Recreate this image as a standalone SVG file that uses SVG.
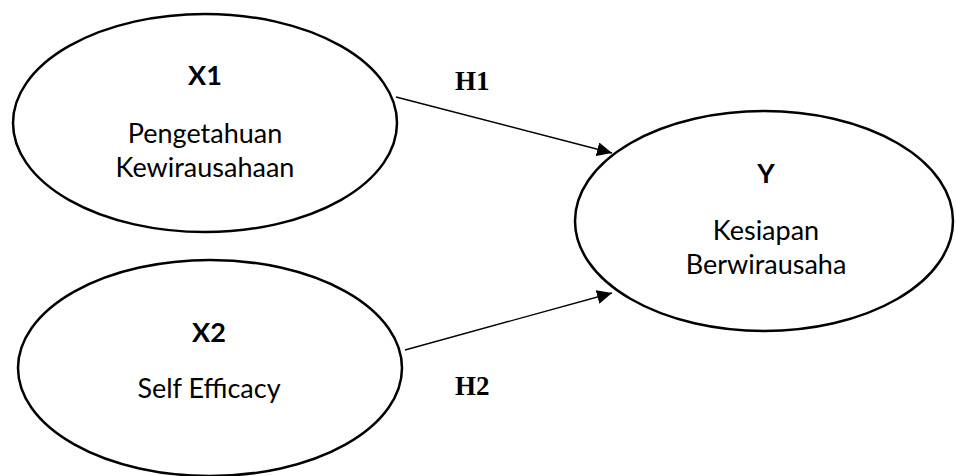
<svg xmlns="http://www.w3.org/2000/svg" width="956" height="476" viewBox="0 0 956 476">
  <style>
    .node ellipse { fill: #ffffff; stroke: #000000; stroke-width: 2.5; }
    .lbl { font-family: Lato, "Liberation Sans", sans-serif; font-size: 27px; fill: #000000; text-anchor: middle; }
    .bold { font-weight: bold; }
    .hyp { font-family: "Liberation Serif", "DejaVu Serif", serif; font-size: 27px; font-weight: bold; fill: #000000; }
    .edge { stroke: #000000; stroke-width: 1.4; fill: none; marker-end: url(#arrow); }
  </style>
  <defs>
    <marker id="arrow" markerUnits="userSpaceOnUse" markerWidth="16" markerHeight="14" refX="15" refY="7" orient="auto">
      <path d="M0,0 L15,7 L0,14 Z" fill="#000000"/>
    </marker>
  </defs>
  <rect width="956" height="476" fill="#ffffff"/>

  <g id="node-x1" class="node">
    <ellipse cx="205" cy="123" rx="192" ry="109"/>
    <text class="lbl bold" x="205" y="85">X1</text>
    <text class="lbl" x="205" y="143">Pengetahuan</text>
    <text class="lbl" x="205" y="177">Kewirausahaan</text>
  </g>

  <g id="node-x2" class="node">
    <ellipse cx="210" cy="368" rx="192" ry="108"/>
    <text class="lbl bold" x="209" y="342">X2</text>
    <text class="lbl" x="209" y="398">Self Efficacy</text>
  </g>

  <g id="node-y" class="node">
    <ellipse cx="764" cy="221" rx="189" ry="110"/>
    <text class="lbl bold" x="766" y="183">Y</text>
    <text class="lbl" x="766" y="240">Kesiapan</text>
    <text class="lbl" x="766" y="274">Berwirausaha</text>
  </g>

  <g id="connectors">
    <line class="edge" x1="396" y1="97" x2="612" y2="153"/>
    <line class="edge" x1="405" y1="350" x2="612" y2="293"/>
    <text class="hyp" x="455" y="90">H1</text>
    <text class="hyp" x="455" y="395">H2</text>
  </g>
</svg>
